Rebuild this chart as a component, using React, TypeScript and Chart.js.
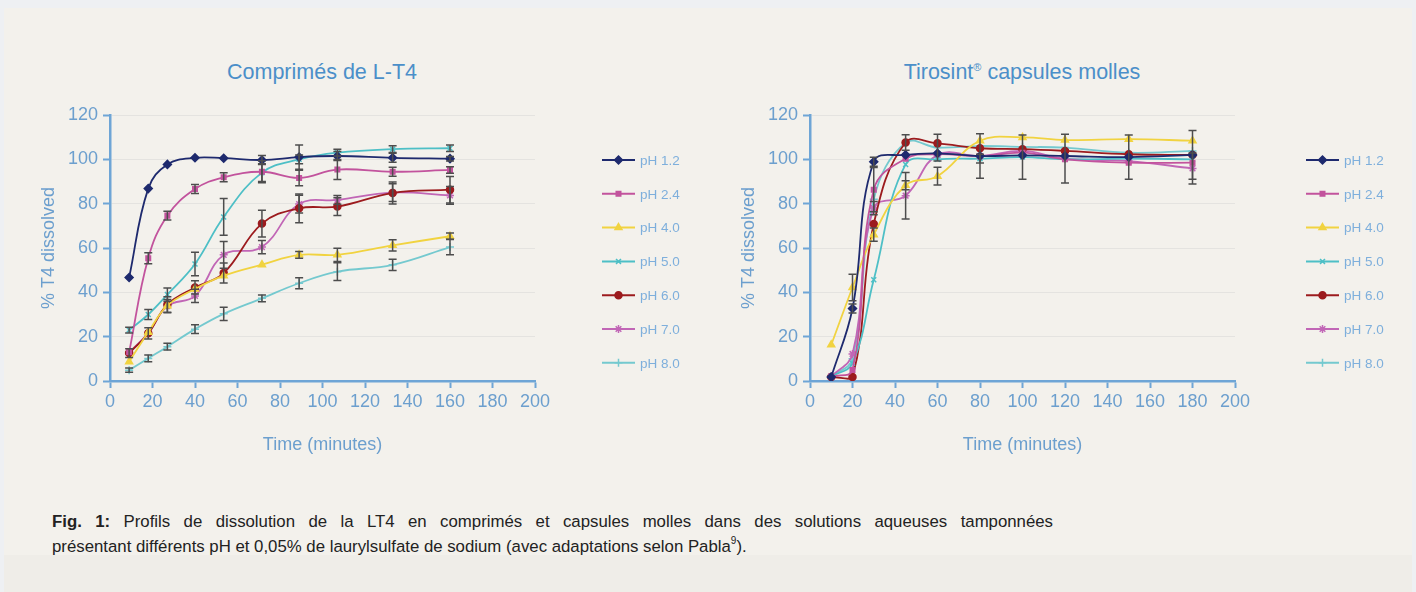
import React, { useEffect, useRef } from 'react';
import { Chart, registerables, PointElement } from 'chart.js';

Chart.register(...registerables);

// ---------- shared series definitions ----------
const SERIES_LABELS = ['pH 1.2', 'pH 2.4', 'pH 4.0', 'pH 5.0', 'pH 6.0', 'pH 7.0', 'pH 8.0'];
const SERIES_COLORS = ['#1e2a6e', '#c2539d', '#f1d340', '#4dbfc6', '#9c1b1e', '#c166b6', '#74c9cf'];
const SERIES_MARKERS = ['rectRot', 'rect', 'triangle', 'crossRot', 'circle', 'star', 'cross'];
const MARKER_SIZES = [4, 3.2, 4, 3.5, 3.5, 4, 4];

const X_TICKS = [0, 20, 40, 60, 80, 100, 120, 140, 160, 180, 200];
const Y_TICKS = [0, 20, 40, 60, 80, 100, 120];

// ---------- left chart: Comprimés de L-T4 ----------
const TABLET_TIME = [9, 18, 27, 40, 53.5, 71.5, 89, 107, 133, 160];
const TABLET_PH_1_2 = [46.7, 86.8, 97.7, 100.7, 100.5, 99.7, 101, 101.5, 100.7, 100.3];
const TABLET_PH_2_4 = [13, 55.4, 74.6, 86.6, 91.9, 94.4, 91.6, 95.4, 94.4, 95.2];
const TABLET_PH_4_0 = [8.7, 22, 34, 41.5, 47.5, 52.5, 56.9, 56.9, 61.2, 65.3];
const TABLET_PH_5_0 = [23, 30, 39, 52.8, 74, 94, 100, 103, 104.6, 105];
const TABLET_PH_6_0 = [12.6, 21.5, 34.5, 42.2, 48.7, 71, 77.9, 78.7, 84.8, 86.3];
const TABLET_PH_7_0 = [13, 21.6, 33.8, 38.4, 56.9, 60.4, 79.8, 81.7, 85, 83.7];
const TABLET_PH_8_0 = [4.9, 10.2, 15.5, 23.4, 30.3, 37.3, 44.1, 49.3, 52.4, 60.4];

const TABLET_ERR_1_2 = [0, 0, 0, 0, 0, 2, 5.5, 2, 2, 1];
const TABLET_ERR_2_4 = [0, 2.5, 2, 2, 2, 5, 3.5, 4.5, 2, 1.5];
const TABLET_ERR_4_0 = [0, 0, 0, 0, 0, 0, 1.5, 3, 2.5, 1.5];
const TABLET_ERR_5_0 = [1.3, 2.3, 3, 5.3, 8.3, 4, 2, 1.5, 1.5, 1.5];
const TABLET_ERR_6_0 = [2, 2.5, 3.5, 3, 4.5, 6, 6.5, 4, 5, 6];
const TABLET_ERR_7_0 = [0, 0, 3, 3, 6, 3, 4, 2, 4, 4];
const TABLET_ERR_8_0 = [1, 1.5, 1.5, 2, 3, 1.5, 2.5, 4, 2.5, 3.5];

// ---------- right chart: Tirosint capsules molles ----------
const CAPSULE_TIME = [10, 20, 30, 45, 60, 80, 100, 120, 150, 180];
const CAPSULE_PH_1_2 = [1.8, 32.7, 98.9, 102, 102.7, 101.5, 101.8, 101.5, 101, 102];
const CAPSULE_PH_2_4 = [2, 5, 86.3, 100.3, 102.3, 101.4, 103, 100, 98.5, 98.5];
const CAPSULE_PH_4_0 = [16.3, 42.2, 66, 88.3, 92.4, 108.4, 109.9, 108.7, 109.1, 108.4];
const CAPSULE_PH_5_0 = [2, 8, 45.7, 97.7, 100, 100.3, 101, 100, 100.3, 100];
const CAPSULE_PH_6_0 = [1.8, 1.8, 70.8, 107.6, 107.2, 105, 104.6, 103.8, 102.3, 102];
const CAPSULE_PH_7_0 = [2, 12.2, 78, 83.6, 102, 101.5, 103.8, 100.3, 99.2, 95.9];
const CAPSULE_PH_8_0 = [2, 10, 82, 107.5, 105.3, 106, 105.6, 105.3, 103, 103.8];

const CAPSULE_ERR_1_2 = [0, 2, 2, 0, 0, 0, 0, 0, 10, 11];
const CAPSULE_ERR_2_4 = [0, 0, 10, 0, 0, 0, 0, 0, 0, 0];
const CAPSULE_ERR_4_0 = [0, 6, 3, 2, 4, 0, 0, 0, 0, 0];
const CAPSULE_ERR_5_0 = [0, 0, 0, 0, 0, 2, 10, 0, 0, 0];
const CAPSULE_ERR_6_0 = [0, 0, 0, 3.5, 0, 0, 0, 0, 0, 0];
const CAPSULE_ERR_7_0 = [0, 0, 3, 10.5, 0, 10, 0, 11, 0, 7];
const CAPSULE_ERR_8_0 = [0, 0, 0, 0, 6, 0, 0, 0, 0, 0];

// ---------- styles ----------
const FONT = '"Liberation Sans", Arial, Helvetica, sans-serif';
const AXIS_COLOR = '#6ea5d6';
const TICK_LABEL_COLOR = '#6c9fce';
const GRID_COLOR = '#e4e3e0';
const TITLE_COLOR = '#4b8fc9';
const LEGEND_TEXT_COLOR = '#7eafdc';
const ERR_COLOR = '#4d4d4d';

const CANVAS_H = 480;

const errorBarPlugin = {
  id: 'errorBars',
  afterDatasetsDraw(chart: any, _args: any, opts: any) {
    const ctx = chart.ctx;
    const ys = chart.scales.y;
    ctx.save();
    ctx.strokeStyle = opts.color;
    ctx.lineWidth = opts.width;
    chart.data.datasets.forEach((ds: any, i: number) => {
      const errs: number[] = ds.errorBars;
      if (!errs) return;
      const meta = chart.getDatasetMeta(i);
      meta.data.forEach((pt: any, j: number) => {
        const e = errs[j];
        if (!e) return;
        const v = ds.data[j].y;
        const x = pt.x;
        const y1 = ys.getPixelForValue(v + e);
        const y2 = ys.getPixelForValue(v - e);
        ctx.beginPath();
        ctx.moveTo(x, y1);
        ctx.lineTo(x, y2);
        ctx.moveTo(x - opts.cap, y1);
        ctx.lineTo(x + opts.cap, y1);
        ctx.moveTo(x - opts.cap, y2);
        ctx.lineTo(x + opts.cap, y2);
        ctx.stroke();
      });
    });
    ctx.restore();
  },
};

const sideLegendPlugin = {
  id: 'sideLegend',
  afterDraw(chart: any, _args: any, opts: any) {
    const ctx = chart.ctx;
    chart.data.datasets.forEach((ds: any, i: number) => {
      const y = opts.top + i * opts.spacing;
      ctx.save();
      ctx.strokeStyle = ds.borderColor;
      ctx.lineWidth = 2;
      ctx.beginPath();
      ctx.moveTo(opts.x, y);
      ctx.lineTo(opts.x + opts.lineLength, y);
      ctx.stroke();
      const pt = new (PointElement as any)({
        x: opts.x + opts.lineLength / 2,
        y,
        options: {
          pointStyle: ds.pointStyle,
          radius: ds.pointRadius,
          rotation: 0,
          backgroundColor: ds.pointBackgroundColor,
          borderColor: ds.pointBorderColor,
          borderWidth: ds.pointBorderWidth,
        },
      });
      pt.draw(ctx);
      ctx.fillStyle = opts.color;
      ctx.font = opts.font;
      ctx.textBaseline = 'middle';
      ctx.textAlign = 'left';
      ctx.fillText(ds.label, opts.x + opts.lineLength + opts.gap, y + 1);
      ctx.restore();
    });
  },
};

function buildConfig(times: number[], series: number[][], errors: number[][], legendX: number, rightPad: number) {
  return {
    type: 'line',
    data: {
      datasets: SERIES_LABELS.map((label, i) => ({
        label,
        data: times.map((t, j) => ({ x: t, y: series[i][j] })),
        errorBars: errors[i],
        borderColor: SERIES_COLORS[i],
        backgroundColor: SERIES_COLORS[i],
        pointBackgroundColor: SERIES_COLORS[i],
        pointBorderColor: SERIES_COLORS[i],
        pointStyle: SERIES_MARKERS[i],
        pointRadius: MARKER_SIZES[i],
        pointBorderWidth: 1.5,
        borderWidth: 1.8,
        tension: 0.4,
        fill: false,
      })),
    },
    options: {
      responsive: false,
      animation: false,
      devicePixelRatio: 1,
      events: [],
      layout: { padding: { top: 115, left: 0, right: rightPad, bottom: 0 } },
      scales: {
        x: {
          type: 'linear',
          min: 0,
          max: 200,
          afterFit: (s: any) => { s.height = CANVAS_H - 381; },
          afterBuildTicks: (s: any) => { s.ticks = X_TICKS.map((v) => ({ value: v })); },
          ticks: { color: TICK_LABEL_COLOR, font: { family: FONT, size: 18 }, padding: 3, maxRotation: 0, autoSkip: false },
          grid: { drawOnChartArea: false, drawTicks: true, tickColor: AXIS_COLOR, tickLength: 7, tickWidth: 2 },
          border: { color: AXIS_COLOR, width: 2.5 },
          title: { display: true, text: 'Time (minutes)', color: TICK_LABEL_COLOR, font: { family: FONT, size: 18 }, padding: { top: 0, bottom: 24 } },
        },
        y: {
          type: 'linear',
          min: 0,
          max: 120,
          afterFit: (s: any) => { s.width = 110; },
          afterBuildTicks: (s: any) => { s.ticks = Y_TICKS.map((v) => ({ value: v })); },
          ticks: { color: TICK_LABEL_COLOR, font: { family: FONT, size: 18 }, padding: 5 },
          grid: {
            color: (c: any) => (c.tick && c.tick.value === 0 ? 'rgba(0,0,0,0)' : GRID_COLOR),
            lineWidth: 1,
            tickColor: AXIS_COLOR,
            tickLength: 7,
            tickWidth: 2,
          },
          border: { color: AXIS_COLOR, width: 2.5 },
          title: { display: true, text: '% T4 dissolved', color: TICK_LABEL_COLOR, font: { family: FONT, size: 18 }, padding: { top: 38, bottom: 0 } },
        },
      },
      plugins: {
        legend: { display: false },
        tooltip: { enabled: false },
        title: { display: false },
        errorBars: { color: ERR_COLOR, width: 1.5, cap: 4 },
        sideLegend: { x: legendX, top: 160, spacing: 33.8, lineLength: 33, gap: 5, color: LEGEND_TEXT_COLOR, font: `13.5px ${FONT}` },
      },
    },
    plugins: [errorBarPlugin, sideLegendPlugin],
  };
}

function ChartCanvas({ config, left, width }: { config: any; left: number; width: number }) {
  const ref = useRef<HTMLCanvasElement | null>(null);
  useEffect(() => {
    const chart = new Chart(ref.current as HTMLCanvasElement, config);
    return () => chart.destroy();
  }, [config]);
  return (
    <canvas
      ref={ref}
      width={width}
      height={CANVAS_H}
      style={{ position: 'absolute', left, top: 0, width, height: CANVAS_H }}
    />
  );
}

const tabletConfig = buildConfig(
  TABLET_TIME,
  [TABLET_PH_1_2, TABLET_PH_2_4, TABLET_PH_4_0, TABLET_PH_5_0, TABLET_PH_6_0, TABLET_PH_7_0, TABLET_PH_8_0],
  [TABLET_ERR_1_2, TABLET_ERR_2_4, TABLET_ERR_4_0, TABLET_ERR_5_0, TABLET_ERR_6_0, TABLET_ERR_7_0, TABLET_ERR_8_0],
  602,
  708 - 535,
);

const capsuleConfig = buildConfig(
  CAPSULE_TIME,
  [CAPSULE_PH_1_2, CAPSULE_PH_2_4, CAPSULE_PH_4_0, CAPSULE_PH_5_0, CAPSULE_PH_6_0, CAPSULE_PH_7_0, CAPSULE_PH_8_0],
  [CAPSULE_ERR_1_2, CAPSULE_ERR_2_4, CAPSULE_ERR_4_0, CAPSULE_ERR_5_0, CAPSULE_ERR_6_0, CAPSULE_ERR_7_0, CAPSULE_ERR_8_0],
  606,
  716 - 535,
);

export default function App() {
  const titleStyle: React.CSSProperties = {
    position: 'absolute',
    top: 58,
    width: 500,
    textAlign: 'center',
    fontFamily: FONT,
    fontSize: 21.5,
    lineHeight: '28px',
    color: TITLE_COLOR,
    whiteSpace: 'nowrap',
  };
  return (
    <div style={{ position: 'absolute', left: 0, top: 0, width: 1416, height: 592, background: '#eef0f3', overflow: 'hidden' }}>
      <div style={{ position: 'absolute', left: 4, top: 8, width: 1408, height: 584, background: '#f3f1ec' }} />
      <div style={{ position: 'absolute', left: 4, top: 555, width: 1408, height: 37, background: '#efede8' }} />
      <div style={{ ...titleStyle, left: 322 - 250 }}>Comprimés de L-T4</div>
      <div style={{ ...titleStyle, left: 1022 - 250 }}>
        Tirosint<sup style={{ fontSize: 11, verticalAlign: 'top', lineHeight: '18px' }}>®</sup> capsules molles
      </div>
      <ChartCanvas config={tabletConfig} left={0} width={708} />
      <ChartCanvas config={capsuleConfig} left={700} width={716} />
      <div
        style={{
          position: 'absolute',
          left: 52,
          top: 509,
          width: 1001,
          fontFamily: FONT,
          fontSize: 16.8,
          lineHeight: '25px',
          color: '#222',
        }}
      >
        <div style={{ textAlign: 'justify', textAlignLast: 'justify', whiteSpace: 'normal' }}>
          <b>Fig. 1:</b> Profils de dissolution de la LT4 en comprimés et capsules molles dans des solutions aqueuses tamponnées
        </div>
        <div style={{ whiteSpace: 'nowrap' }}>
          présentant différents pH et 0,05% de laurylsulfate de sodium (avec adaptations selon Pabla
          <sup style={{ fontSize: 10, verticalAlign: 'top', lineHeight: '14px' }}>9</sup>).
        </div>
      </div>
    </div>
  );
}
